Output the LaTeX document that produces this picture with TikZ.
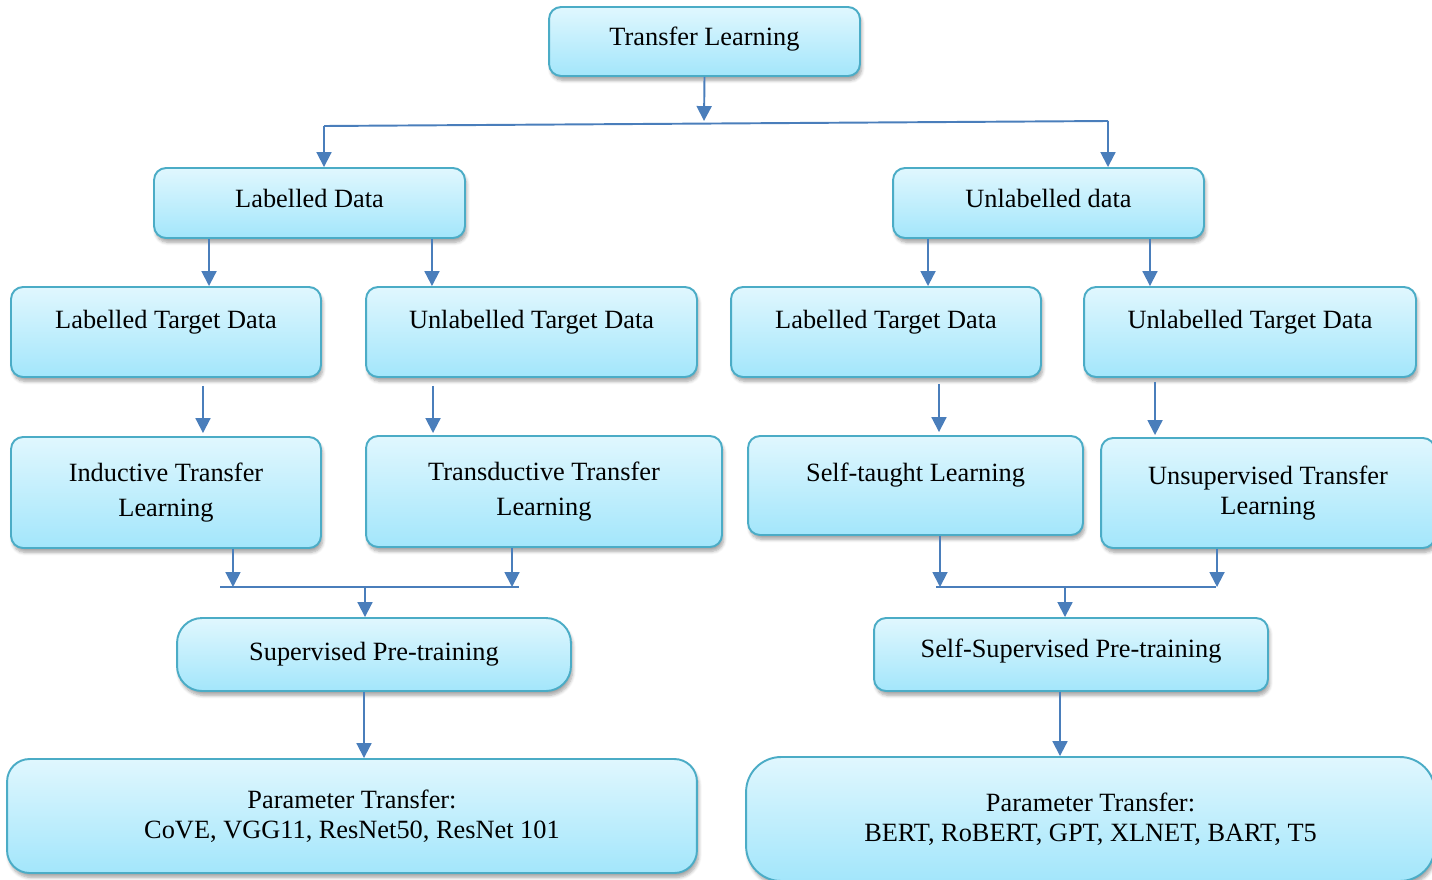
\documentclass[tikz,border=0pt]{standalone}
\usepackage{fontspec}
\setmainfont{Liberation Serif}
\usetikzlibrary{arrows.meta,shadows.blur}

\definecolor{boxline}{RGB}{75,172,198}
\definecolor{boxtop}{RGB}{224,247,254}
\definecolor{boxbottom}{RGB}{163,230,251}
\definecolor{linkblue}{RGB}{74,126,187}

\tikzset{
  box/.style={draw=boxline, line width=1.1pt, rounded corners=0.24cm,
    top color=boxtop, bottom color=boxbottom, align=center,
    font=\fontsize{15}{20}\selectfont,
    blur shadow={shadow xshift=1pt, shadow yshift=-2.5pt, shadow blur steps=6, shadow opacity=35}},
  link/.style={draw=linkblue, line width=1.1pt},
  arr/.style={link, -{Triangle[length=8.5pt,width=8.5pt]}},
}

\begin{document}
\begin{tikzpicture}[x=0.02cm, y=-0.02cm]
\useasboundingbox (0,0) rectangle (1432,879);

% root
\node[box, minimum width=6.22cm, inner ysep=0pt, text height=0.77cm, text depth=0.61cm] (tl) at (704.5,41.5) {Transfer Learning};

% first split
\node[box, minimum width=6.22cm, inner ysep=0pt, text height=0.79cm, text depth=0.61cm] (ld) at (309.5,203) {Labelled Data};
\node[box, minimum width=6.22cm, inner ysep=0pt, text height=0.79cm, text depth=0.61cm] (ud) at (1048.5,203) {Unlabelled data};

% target data row
\node[box, minimum width=6.2cm, inner ysep=0pt, text height=0.82cm, text depth=0.98cm] (ltda) at (166,332) {Labelled Target Data};
\node[box, minimum width=6.62cm, inner ysep=0pt, text height=0.82cm, text depth=0.98cm] (utda) at (531.5,332) {Unlabelled Target Data};
\node[box, minimum width=6.2cm, inner ysep=0pt, text height=0.82cm, text depth=0.98cm] (ltdb) at (886,332) {Labelled Target Data};
\node[box, minimum width=6.64cm, inner ysep=0pt, text height=0.82cm, text depth=0.98cm] (utdb) at (1250,332) {Unlabelled Target Data};

% kinds of transfer
\node[box, minimum width=6.2cm, minimum height=2.22cm] (itl) at (166,492.5) {Inductive Transfer\\Learning};
\node[box, minimum width=7.12cm, minimum height=2.22cm] (ttl) at (544,491.5) {Transductive Transfer\\Learning};
\node[box, minimum width=6.7cm, inner ysep=0pt, text height=0.9cm, text depth=1.08cm] (stl) at (915.5,485.5) {Self-taught Learning};
\node[box, minimum width=6.68cm, minimum height=2.2cm, font=\fontsize{15}{17}\selectfont] (utl) at (1268,493) {Unsupervised Transfer\\Learning};

% pre-training
\node[box, minimum width=7.88cm, minimum height=1.46cm, rounded corners=0.5cm] (sp) at (374,654.5) {Supervised Pre-training};
\node[box, minimum width=7.88cm, inner ysep=0pt, text height=0.79cm, text depth=0.67cm] (ssp) at (1071,654.5) {Self-Supervised Pre-training};

% parameter transfer
\node[box, minimum width=13.8cm, minimum height=2.28cm, rounded corners=0.45cm, font=\fontsize{15}{17}\selectfont] (pta) at (352,816) {Parameter Transfer:\\CoVE, VGG11, ResNet50, ResNet 101};
\node[box, minimum width=13.78cm, minimum height=2.48cm, rounded corners=0.7cm, font=\fontsize{15}{17}\selectfont] (ptb) at (1090.5,819) {Parameter Transfer:\\BERT, RoBERT, GPT, XLNET, BART, T5};

% bus lines
\coordinate (busL) at (324,126);
\coordinate (busR) at (1108,121);
\coordinate (tlhit) at (704,121);
\coordinate (busA) at (220,587);
\coordinate (busB) at (519,587);
\coordinate (busC) at (936,587);
\coordinate (busD) at (1216,587);

\draw[link] (busL) -- (busR);
\draw[link] (busA) -- (busB);
\draw[link] (busC) -- (busD);

% root to first split
\draw[arr] (tl.south) -- (tlhit);
\draw[arr] (busL) -- (busL |- ld.north);
\draw[arr] (busR) -- (busR |- ud.north);

% first split to target data
\draw[arr] ([xshift=-2.01cm]ld.south) -- ([xshift=-2.01cm]ld.south |- ltda.north);
\draw[arr] ([xshift=2.45cm]ld.south) -- ([xshift=2.45cm]ld.south |- utda.north);
\draw[arr] ([xshift=-2.41cm]ud.south) -- ([xshift=-2.41cm]ud.south |- ltdb.north);
\draw[arr] ([xshift=2.03cm]ud.south) -- ([xshift=2.03cm]ud.south |- utdb.north);

% target data to kinds of transfer
\draw[arr, shorten <=0.16cm, shorten >=0.06cm] ([xshift=0.74cm]ltda.south) -- ([xshift=0.74cm]ltda.south |- itl.north);
\draw[arr, shorten <=0.16cm, shorten >=0.04cm] ([xshift=-1.97cm]utda.south) -- ([xshift=-1.97cm]utda.south |- ttl.north);
\draw[arr, shorten <=0.12cm, shorten >=0.06cm] ([xshift=1.06cm]ltdb.south) -- ([xshift=1.06cm]ltdb.south |- stl.north);
\draw[arr, shorten <=0.08cm, shorten >=0.04cm] ([xshift=-1.9cm]utdb.south) -- ([xshift=-1.9cm]utdb.south |- utl.north);

% kinds of transfer to pre-training
\draw[arr] ([xshift=1.34cm]itl.south) -- ([xshift=1.34cm]itl.south |- busA);
\draw[arr] ([xshift=-0.64cm]ttl.south) -- ([xshift=-0.64cm]ttl.south |- busA);
\draw[arr] ([xshift=-0.18cm]sp.north |- busA) -- ([xshift=-0.18cm]sp.north);
\draw[arr] ([xshift=0.49cm]stl.south) -- ([xshift=0.49cm]stl.south |- busC);
\draw[arr] ([xshift=-1.02cm]utl.south) -- ([xshift=-1.02cm]utl.south |- busC);
\draw[arr] ([xshift=-0.12cm]ssp.north |- busC) -- ([xshift=-0.12cm]ssp.north);

% pre-training to parameter transfer
\draw[arr] ([xshift=-0.2cm]sp.south) -- ([xshift=-0.2cm]sp.south |- pta.north);
\draw[arr] ([xshift=-0.22cm]ssp.south) -- ([xshift=-0.22cm]ssp.south |- ptb.north);

\end{tikzpicture}
\end{document}
